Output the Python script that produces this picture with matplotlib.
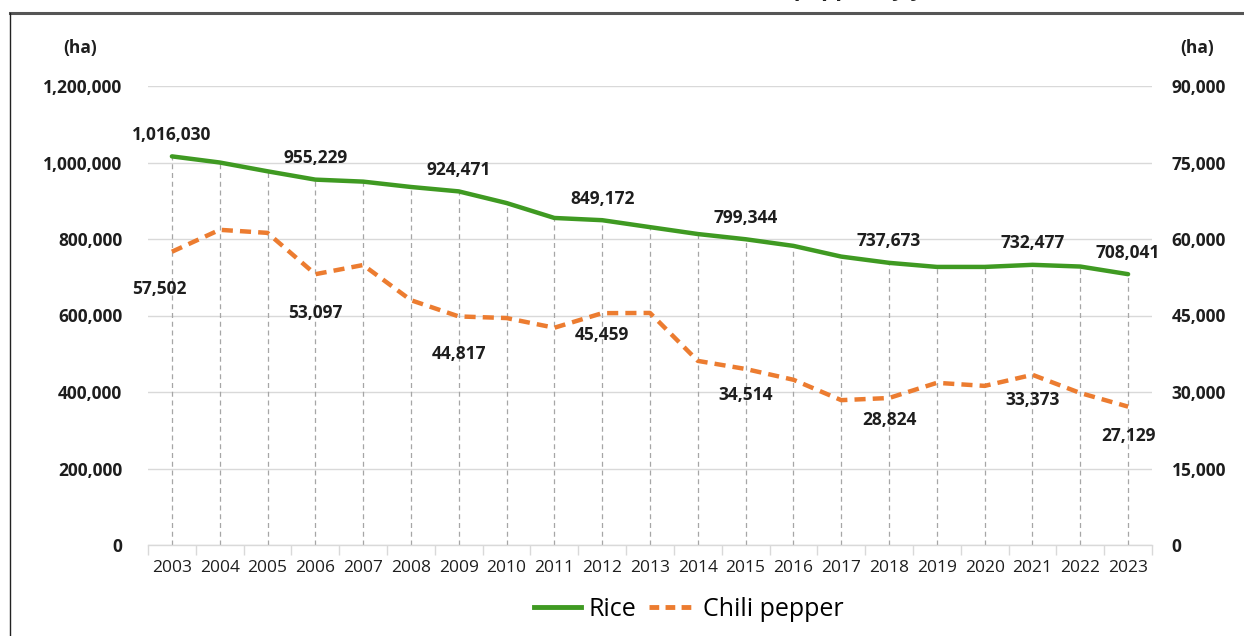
import matplotlib.pyplot as plt
from matplotlib.lines import Line2D
from matplotlib.ticker import FuncFormatter, FixedLocator

# -----------------------------
# DATA
# -----------------------------
years = [str(y) for y in range(2003, 2024)]
rice = [1016030, 1000000, 977000, 955229, 950000, 936000, 924471, 894000, 855000,
        849172, 831000, 813000, 799344, 782000, 754000, 737673, 727000, 727000,
        732477, 728000, 708041]
chili = [57502, 61800, 61200, 53097, 54900, 48000, 44817, 44500, 42600,
         45459, 45500, 36100, 34514, 32400, 28400, 28824, 31800, 31200,
         33373, 29800, 27129]
label_idx = [0, 3, 6, 9, 12, 15, 18, 20]

rice_color = "#3f9a22"
chili_color = "#ec7c30"
grid_color = "#d9d9d9"
txt_color = "#1e1e1e"

plt.rcParams['font.family'] = ['Open Sans', 'DejaVu Sans']

fig = plt.figure(figsize=(12.44, 6.36), dpi=100)
ax = fig.add_axes([148 / 1244, 1 - 545 / 636, (1152 - 148) / 1244, (545 - 86) / 636])
ax2 = ax.twinx()

x = list(range(len(years)))

# drop lines from rice points to the axis
ax.vlines(x, 0, rice, colors="#a6a6a6", linestyles=(0, (4, 3)), linewidth=0.9, zorder=1)

ax.plot(x, rice, color=rice_color, linewidth=3.2, zorder=3, solid_capstyle='round')
ax2.plot(x, chili, color=chili_color, linewidth=3.2, linestyle=(0, (2.5, 1.6)), zorder=3)

ax.set_xlim(-0.5, len(years) - 0.5)
ax.set_ylim(0, 1200000)
ax2.set_ylim(0, 90000)

ax.set_yticks(range(0, 1200001, 200000))
ax2.set_yticks(range(0, 90001, 15000))
fmt = FuncFormatter(lambda v, p: f"{int(v):,}")
ax.yaxis.set_major_formatter(fmt)
ax2.yaxis.set_major_formatter(fmt)

ax.grid(axis='y', color=grid_color, linewidth=1.0, zorder=0)
ax.set_axisbelow(True)

for a in (ax, ax2):
    for s in ('top', 'left', 'right', 'bottom'):
        a.spines[s].set_visible(False)
ax.spines['bottom'].set_visible(True)
ax.spines['bottom'].set_color(grid_color)
ax.spines['bottom'].set_linewidth(1.0)

ax.tick_params(axis='y', length=0, pad=18.5, labelsize=12.5)
ax2.tick_params(axis='y', length=0, pad=14, labelsize=12.5)
for lab in ax.get_yticklabels() + ax2.get_yticklabels():
    lab.set_fontweight('bold')
    lab.set_color(txt_color)

ax.set_xticks(x)
ax.set_xticklabels(years, fontsize=12.5, color=txt_color)
ax.tick_params(axis='x', which='major', length=0, pad=11)
ax.xaxis.set_minor_locator(FixedLocator([i - 0.5 for i in range(len(years) + 1)]))
ax.tick_params(axis='x', which='minor', length=7, color=grid_color, width=1.0)

# data labels
chili_dy = {0: -27, 3: -28, 6: -27, 9: -16, 12: -19, 15: -16, 18: -18, 20: -21}
for i in label_idx:
    ax.annotate(f"{rice[i]:,}", (x[i], rice[i]), xytext=(0, 9), textcoords='offset points',
                ha='center', va='bottom', fontsize=12.5, fontweight='bold', color=txt_color)
    ax2.annotate(f"{chili[i]:,}", (x[i], chili[i]), xytext=(-9 if i == 0 else 0, chili_dy[i]),
                 textcoords='offset points', ha='center', va='center', fontsize=12.5,
                 fontweight='bold', color=txt_color)

fig.text(80 / 1244, 1 - 48 / 636, "(ha)", ha='center', va='center', fontsize=12.5,
         fontweight='bold', color=txt_color)
fig.text(1197 / 1244, 1 - 48 / 636, "(ha)", ha='center', va='center', fontsize=12.5,
         fontweight='bold', color=txt_color)

# legend
handles = [Line2D([], [], color=rice_color, linewidth=3.5),
           Line2D([], [], color=chili_color, linewidth=3.5, linestyle=(0, (2.0, 1.3)))]
fig.legend(handles, ["Rice", "Chili pepper"], loc='center', bbox_to_anchor=(689 / 1244, 1 - 609 / 636),
           ncol=2, frameon=False, fontsize=18, handlelength=1.85, columnspacing=0.5, handletextpad=0.32)

# frame and cut-off title
fig.add_artist(Line2D([10 / 1244, 1], [1 - 13 / 636, 1 - 13 / 636], transform=fig.transFigure,
                      color='#555555', linewidth=2.2))
fig.add_artist(Line2D([10 / 1244, 10 / 1244], [0, 1 - 13 / 636], transform=fig.transFigure,
                      color='#222222', linewidth=1.0))
fig.text(960 / 1244, 1 + 4 / 636, "Cultivated area of rice and chili pepper by year",
         ha='right', va='baseline', fontsize=16, fontweight='bold', color='#222222')

fig.savefig("out.png", dpi=100)
